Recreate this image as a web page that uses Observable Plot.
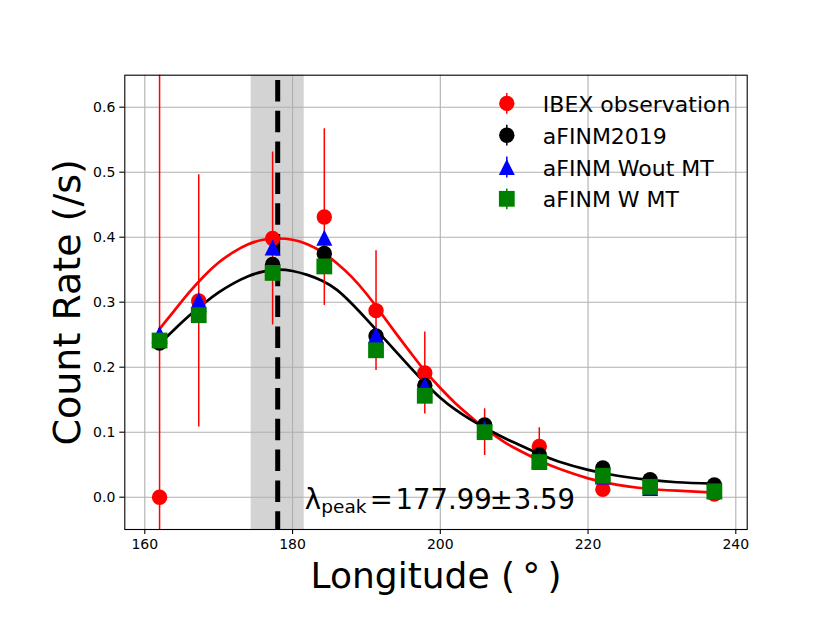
<!DOCTYPE html>
<html>
<head>
<meta charset="utf-8">
<script src="https://cdn.jsdelivr.net/npm/d3@7"></script>
<script src="https://cdn.jsdelivr.net/npm/@observablehq/plot@0.6"></script>
<style>
  html, body { margin: 0; padding: 0; background: #fff; }
  #chart svg { display: block; font-family: "DejaVu Sans", sans-serif; }
</style>
</head>
<body>
<div id="chart"></div>
<script>
// ---------- data ----------
const longitudes = [162.0, 167.3, 177.3, 184.3, 191.3, 197.9, 206.0, 213.4, 222.0, 228.4, 237.1];
const ibexRate   = [0.000, 0.302, 0.398, 0.431, 0.287, 0.191, 0.100, 0.078, 0.012, 0.015, 0.005];
const ibexErr    = [0.700, 0.194, 0.133, 0.136, 0.092, 0.063, 0.036, 0.029, 0.010, 0.008, 0.006];
const afinm2019  = [0.237, 0.286, 0.358, 0.375, 0.248, 0.172, 0.111, 0.065, 0.045, 0.027, 0.019];
const afinmWout  = [0.251, 0.303, 0.384, 0.399, 0.249, 0.172, 0.106, 0.058, 0.032, 0.014, 0.009];
const afinmW     = [0.241, 0.280, 0.345, 0.355, 0.226, 0.156, 0.100, 0.054, 0.033, 0.016, 0.009];

// Fitted curves
const ibexFitLon  = [162, 164, 166, 168, 170, 172, 174, 176, 178, 180, 182, 184, 186, 188, 190, 192, 194, 196, 198, 200, 202, 204, 206, 208, 210, 213.5, 216, 220, 224, 228, 232, 237.1];
const ibexFitRate = [0.259, 0.287, 0.315, 0.340, 0.361, 0.377, 0.389, 0.396, 0.398, 0.396, 0.389, 0.377, 0.360, 0.339, 0.313, 0.283, 0.252, 0.222, 0.193, 0.168, 0.145, 0.125, 0.106, 0.090, 0.076, 0.056, 0.044, 0.029, 0.019, 0.013, 0.010, 0.007];
const modelFitLon  = [162, 164, 166, 168, 170, 172, 174, 176, 178, 180, 182, 184, 186, 188, 190, 192, 194, 196, 198, 200, 202, 204, 206, 208, 210, 213.5, 216, 220, 224, 228, 232, 237.1];
const modelFitRate = [0.236, 0.258, 0.279, 0.298, 0.315, 0.329, 0.340, 0.347, 0.350, 0.348, 0.342, 0.333, 0.319, 0.298, 0.274, 0.249, 0.224, 0.199, 0.175, 0.153, 0.135, 0.120, 0.107, 0.095, 0.084, 0.066, 0.055, 0.042, 0.033, 0.027, 0.023, 0.021];

const peakLon = 177.99;
const peakErr = 3.59;

const xTicks = [160, 180, 200, 220, 240];
const yTicks = [0.0, 0.1, 0.2, 0.3, 0.4, 0.5, 0.6];
const legendLabels = ["IBEX observation", "aFINM2019", "aFINM Wout MT", "aFINM W MT"];
const xLabel = "Longitude (\u2009\u00B0\u2009)";
const yLabel = "Count Rate (/s)";

// ---------- tables ----------
const obs = longitudes.map((lon, i) => ({lon, rate: ibexRate[i], err: ibexErr[i]}));
const mk = (arr) => longitudes.map((lon, i) => ({lon, rate: arr[i]}));
const ibexFit = ibexFitLon.map((lon, i) => ({lon, rate: ibexFitRate[i]}));
const modelFit = modelFitLon.map((lon, i) => ({lon, rate: modelFitRate[i]}));

// ---------- custom symbols (matplotlib-like) ----------
const triUp = {draw(ctx, size) { const r = Math.sqrt(size / Math.PI); ctx.moveTo(0, -r); ctx.lineTo(r, r); ctx.lineTo(-r, r); ctx.closePath(); }};
const square = {draw(ctx, size) { const r = Math.sqrt(size / Math.PI); ctx.rect(-r, -r, 2 * r, 2 * r); }};
const vbar = {draw(ctx, size) { const r = Math.sqrt(size / Math.PI); ctx.moveTo(0, -r); ctx.lineTo(0, r); }};

const series = [
  {label: legendLabels[0], color: "#ff0000", symbol: "circle", r: 7.7},
  {label: legendLabels[1], color: "#000000", symbol: "circle", r: 7.7},
  {label: legendLabels[2], color: "#0000ff", symbol: triUp, r: 8},
  {label: legendLabels[3], color: "#008000", symbol: square, r: 7.9}
];

// legend marks
const legendMarks = [];
series.forEach((s, i) => {
  legendMarks.push(Plot.dot([s.label], {frameAnchor: "top-left", dx: 382, dy: 28.2 + i * 31.8, symbol: vbar, r: 10.4, stroke: s.color, fill: "none", strokeWidth: 1.5}));
  legendMarks.push(Plot.dot([s.label], {frameAnchor: "top-left", dx: 382, dy: 28.2 + i * 31.8, symbol: s.symbol, r: s.r, fill: s.color}));
  legendMarks.push(Plot.text([s.label], {frameAnchor: "top-left", dx: 418, dy: 37 + i * 31.75, text: d => d, textAnchor: "start", lineAnchor: "bottom", fontSize: 22, fill: "black"}));
});

const ann = {frameAnchor: "bottom-left", text: d => d, textAnchor: "start", lineAnchor: "bottom", fill: "black"};

const chart = Plot.plot({
  width: 830,
  height: 623,
  marginTop: 74.7,
  marginRight: 83.3,
  marginBottom: 94,
  marginLeft: 124.3,
  style: {background: "#fff", color: "#000", fontFamily: "DejaVu Sans, sans-serif", fontSize: "14px"},
  x: {domain: [157.293, 241.543], label: null},
  y: {domain: [-0.0497, 0.6492], label: null},
  marks: [
    // uncertainty band on the peak longitude
    Plot.rect([{lo: peakLon - peakErr, hi: peakLon + peakErr}], {x1: "lo", x2: "hi", fill: "#d3d3d3"}),
    Plot.gridX({ticks: xTicks, stroke: "#b0b0b0", strokeOpacity: 1, strokeWidth: 1.1}),
    Plot.gridY({ticks: yTicks, stroke: "#b0b0b0", strokeOpacity: 1, strokeWidth: 1.1}),
    Plot.axisX({ticks: xTicks, tickSize: 5, tickPadding: 5, tickFormat: d3.format("d"), fontSize: 14, label: null, strokeWidth: 1.1}),
    Plot.axisY({ticks: yTicks, tickSize: 5, tickPadding: 4.5, tickFormat: d3.format(".1f"), fontSize: 14, label: null, strokeWidth: 1.1}),
    // fitted curves
    Plot.line(ibexFit, {x: "lon", y: "rate", stroke: "#ff0000", strokeWidth: 2.7, curve: "natural"}),
    Plot.line(modelFit, {x: "lon", y: "rate", stroke: "#000000", strokeWidth: 2.7, curve: "natural"}),
    // peak line
    Plot.ruleX([peakLon], {stroke: "#000", strokeWidth: 5, strokeDasharray: "21.5,9.3", strokeDashoffset: 25.5}),
    // error bars of the IBEX observation
    Plot.ruleX(obs, {x: "lon", y1: d => d.rate - d.err, y2: d => d.rate + d.err, stroke: "#ff0000", strokeWidth: 1.5, clip: true}),
    // markers
    Plot.dot(obs, {x: "lon", y: "rate", r: 7.7, fill: "#ff0000", symbol: "circle"}),
    Plot.dot(mk(afinm2019), {x: "lon", y: "rate", r: 7.7, fill: "#000000", symbol: "circle"}),
    Plot.dot(mk(afinmWout), {x: "lon", y: "rate", r: 8, fill: "#0000ff", symbol: triUp}),
    Plot.dot(mk(afinmW), {x: "lon", y: "rate", r: 7.9, fill: "#008000", symbol: square}),
    // annotation  λ_peak = 177.99 ± 3.59
    Plot.text(["\u03BB"], {...ann, dx: 180, dy: -20.5, fontSize: 27.5}),
    Plot.text(["peak"], {...ann, dx: 196.5, dy: -16.5, fontSize: 18.5}),
    Plot.text(["="], {...ann, dx: 245, dy: -20.5, fontSize: 27.5}),
    Plot.text([peakLon.toFixed(2)], {...ann, dx: 270.7, dy: -20.5, fontSize: 27.5}),
    Plot.text(["\u00B1"], {...ann, dx: 365, dy: -20.5, fontSize: 27.5}),
    Plot.text([peakErr.toFixed(2)], {...ann, dx: 389, dy: -20.5, fontSize: 27.5}),
    // axis labels
    Plot.text([xLabel], {frameAnchor: "bottom", dy: 58, text: d => d, textAnchor: "middle", lineAnchor: "bottom", fontSize: 36}),
    Plot.text([yLabel], {frameAnchor: "left", dx: -45, rotate: -90, text: d => d, textAnchor: "middle", lineAnchor: "bottom", fontSize: 38}),
    ...legendMarks,
    Plot.frame({stroke: "#000", strokeWidth: 1.1})
  ]
});
document.getElementById("chart").append(chart);
</script>
</body>
</html>
